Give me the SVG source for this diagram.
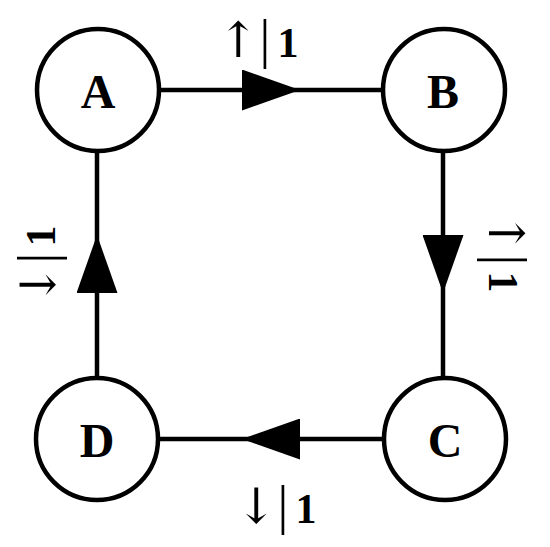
<svg xmlns="http://www.w3.org/2000/svg" width="550" height="547" viewBox="0 0 550 547">
<style>
.node circle{fill:#fff;stroke:#000;stroke-width:4.5}
.node text{font-family:"Liberation Serif","DejaVu Serif",serif;font-weight:bold;font-size:48px;text-anchor:middle;fill:#000}
.edge{fill:none;stroke:#000;stroke-width:4.5;marker-mid:url(#tri)}
.lbl{font-family:"Liberation Serif","DejaVu Serif",serif;font-size:42px;fill:#000;text-anchor:middle}
.lbl .one{font-weight:bold}
.lbl .ar{font-family:"DejaVu Serif",serif;font-size:49px;font-weight:200}
.lbl .bar{font-size:54px}
</style>
<defs>
<marker id="tri" markerUnits="userSpaceOnUse" viewBox="0 0 58 41" markerWidth="58" markerHeight="41" refX="29" refY="20.5" orient="auto">
<path d="M0,0 L58,20.5 L0,41 Z" fill="#000"/>
</marker>
</defs>
<g id="connectors">
<path class="edge" d="M160,90 L271,90 L382,90"/>
<path class="edge" d="M443,152 L443,264 L443,377"/>
<path class="edge" d="M383,439 L271,439 L159,439"/>
<path class="edge" d="M97,377 L97,264 L97,152"/>
</g>
<g id="A" class="node"><circle cx="98" cy="90" r="61"/><text x="98" y="108">A</text></g>
<g id="B" class="node"><circle cx="444" cy="90" r="61"/><text x="443" y="108">B</text></g>
<g id="C" class="node"><circle cx="445" cy="439" r="61"/><text x="445" y="457">C</text></g>
<g id="D" class="node"><circle cx="97" cy="439" r="61"/><text x="97" y="457">D</text></g>
<g id="labels">
<text class="lbl" y="57"><tspan class="ar" x="238">↑</tspan><tspan class="bar" x="265">|</tspan><tspan class="one" x="288">1</tspan></text>
<text class="lbl" transform="translate(489,259) rotate(90)" y="0"><tspan class="ar" x="-26">↑</tspan><tspan class="bar" x="1">|</tspan><tspan class="one" x="23">1</tspan></text>
<text class="lbl" y="523"><tspan class="ar" x="256">↓</tspan><tspan class="bar" x="283">|</tspan><tspan class="one" x="306">1</tspan></text>
<text class="lbl" transform="translate(55,259) rotate(-90)" y="0"><tspan class="ar" x="-26">↓</tspan><tspan class="bar" x="1">|</tspan><tspan class="one" x="23">1</tspan></text>
</g>
</svg>
